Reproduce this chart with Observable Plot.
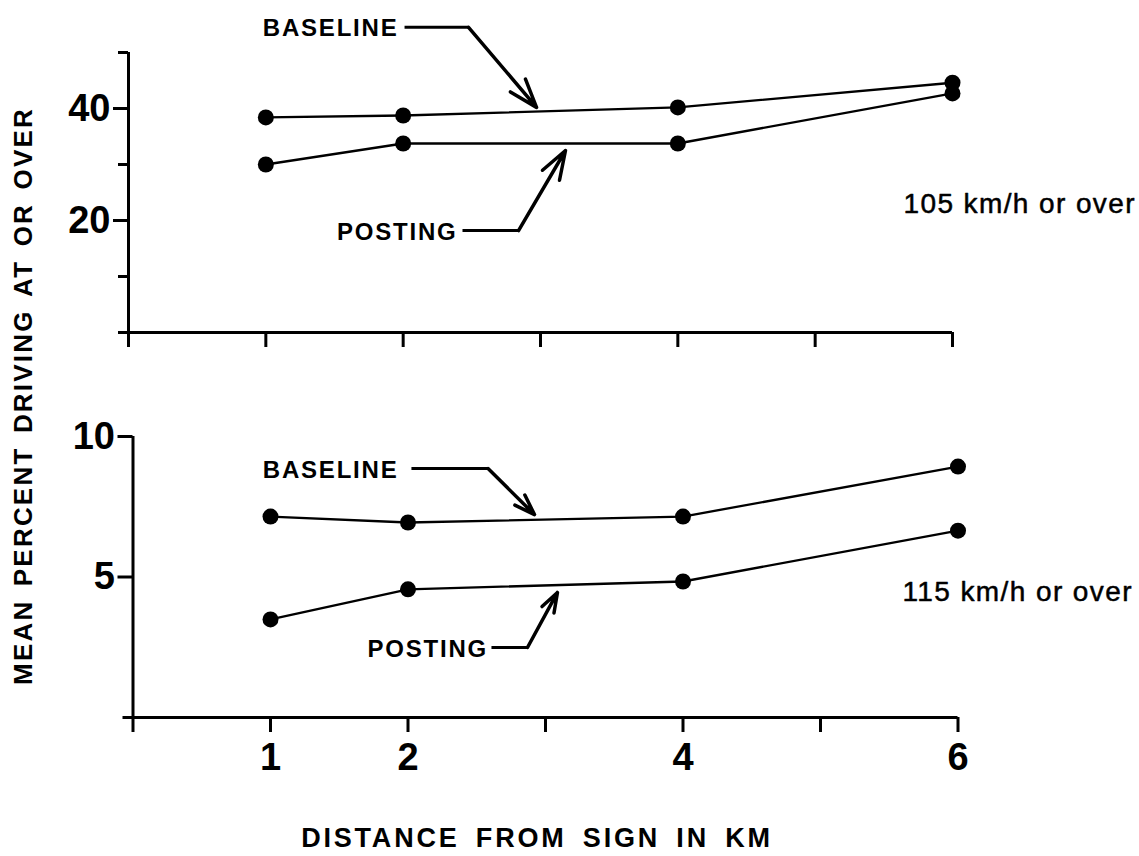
<!DOCTYPE html>
<html><head><meta charset="utf-8">
<script src="https://cdn.jsdelivr.net/npm/d3@7"></script>
<script src="https://cdn.jsdelivr.net/npm/@observablehq/plot@0.6"></script>
<style>
html,body{margin:0;padding:0;background:#fff;}
#wrap{position:relative;width:1139px;height:856px;overflow:hidden;font-family:"Liberation Sans",Arial,sans-serif;color:#000;}
#top,#bottom{position:absolute;left:0;}
#top{top:0;}
#bottom{top:380px;}
#ytitle{position:absolute;left:23px;top:396px;transform:translate(-50%,-50%) rotate(-90deg);white-space:nowrap;font-weight:bold;font-size:26px;letter-spacing:2.2px;word-spacing:4px;}
#xtitle{position:absolute;left:537px;top:838px;transform:translate(-50%,-50%);white-space:nowrap;font-weight:bold;font-size:27px;letter-spacing:2.8px;word-spacing:6px;}
</style></head>
<body>
<div id="wrap">
  <div id="top"></div>
  <div id="bottom"></div>
  <div id="ytitle">MEAN PERCENT DRIVING AT OR OVER</div>
  <div id="xtitle">DISTANCE FROM SIGN IN KM</div>
</div>
<script>
// ---- data ----
const distances = [1, 2, 4, 6];
const baseline105 = [38.4, 38.75, 40.2, 44.6];
const posting105 = [30.0, 33.75, 33.75, 42.7];
const baseline115 = [7.15, 6.94, 7.15, 8.93];
const posting115 = [3.49, 4.56, 4.84, 6.65];

// ---- tick values / labels ----
const xTicks = [0, 1, 2, 3, 4, 5, 6];
const xTickLabels = [1, 2, 4, 6];
const yTicksTop = [0, 10, 30, 50];
const yLabelsTop = [20, 40];
const yTicksBottom = [0];
const yLabelsBottom = [5, 10];

// ---- annotations (data units) ----
const topSeriesLabels = [
  {text: "BASELINE", x: 1.966, y: 54.3},
  {text: "POSTING", x: 2.396, y: 17.9}
];
const topLeaders = [
  {x1: 2.01, y1: 54.5, x2: 2.476, y2: 54.5, x3: 2.971, y3: 40.2},
  {x1: 2.432, y1: 18.2, x2: 2.84, y2: 18.2, x3: 3.182, y3: 32.5}
];
const topPanelLabel = [{text: "105 km/h or over", x: 5.643, y: 23.0}];

const bottomSeriesLabels = [
  {text: "BASELINE", x: 1.931, y: 8.79},
  {text: "POSTING", x: 2.582, y: 2.42}
];
const bottomLeaders = [
  {x1: 2.025, y1: 8.86, x2: 2.582, y2: 8.86, x3: 2.92, y3: 7.22},
  {x1: 2.607, y1: 2.49, x2: 2.869, y2: 2.49, x3: 3.087, y3: 4.45}
];
const bottomPanelLabel = [{text: "115 km/h or over", x: 5.596, y: 4.45}];

const FONT = '"Liberation Sans", Arial, sans-serif';

function rows(arr, series) {
  return distances.map((d, i) => ({km: d, pct: arr[i], series}));
}

function panel({base, post, yDomain, yTicks, yLabels, labels, leaders, panelLabel, showX, layout}) {
  const data = rows(base, "BASELINE").concat(rows(post, "POSTING"));
  const marks = [
    Plot.ruleY([0], {stroke: "black", strokeWidth: 3}),
    Plot.ruleX([0], {stroke: "black", strokeWidth: 3}),
    Plot.axisX({ticks: xTicks, tickSize: 15, tickFormat: () => "", strokeWidth: 3, label: null}),
    Plot.axisY({ticks: yTicks, tickSize: 10, tickFormat: () => "", strokeWidth: 3, label: null}),
    Plot.axisY({ticks: yLabels, tickSize: 15, tickPadding: 3, tickFormat: d => String(d), strokeWidth: 3, fontSize: 38, fontWeight: "bold", fontFamily: FONT, fill: "black", label: null}),
    Plot.line(data, {x: "km", y: "pct", z: "series", stroke: "black", strokeWidth: 2.3}),
    Plot.dot(data, {x: "km", y: "pct", r: 8, fill: "black", stroke: "none"}),
    Plot.text(labels, {x: "x", y: "y", text: "text", textAnchor: "end", fontSize: 24, fontWeight: "bold", fontFamily: FONT, fill: "black"}),
    Plot.link(leaders, {x1: "x1", y1: "y1", x2: "x2", y2: "y2", stroke: "black", strokeWidth: 3}),
    Plot.arrow(leaders, {x1: "x2", y1: "y2", x2: "x3", y2: "y3", stroke: "black", strokeWidth: 3.5, headLength: 13, headAngle: 38}),
    Plot.text(panelLabel, {x: "x", y: "y", text: "text", textAnchor: "start", fontSize: 28, fontFamily: FONT, fill: "black", stroke: "black", strokeWidth: 0.5})
  ];
  if (showX) {
    marks.push(Plot.axisX({ticks: xTickLabels, tickSize: 0, tickPadding: 26, tickFormat: d => String(d), fontSize: 38, fontWeight: "bold", fontFamily: FONT, fill: "black", label: null}));
  }
  const svg = Plot.plot({
    width: 1139,
    height: layout.height,
    marginLeft: layout.ml,
    marginRight: layout.mr,
    marginTop: layout.mt,
    marginBottom: layout.mb,
    x: {domain: [0, 6], label: null},
    y: {domain: yDomain, label: null},
    style: {fontFamily: FONT, background: "transparent", overflow: "visible", color: "black"},
    marks
  });
  const s = d3.select(svg);
  const seriesNames = labels.map(d => d.text);
  const panelNames = panelLabel.map(d => d.text);
  s.selectAll("text").each(function () {
    const t = this.textContent;
    if (seriesNames.includes(t)) this.setAttribute("letter-spacing", "1.8px");
    if (panelNames.includes(t)) this.setAttribute("letter-spacing", "1.4px");
  });
  s.selectAll('g[aria-label*="tick"]').each(function () {
    this.setAttribute("stroke-width", "3");
    d3.select(this).selectAll("line, path").attr("stroke-width", 3);
  });
  return svg;
}

document.getElementById("top").appendChild(panel({
  base: baseline105, post: posting105, yDomain: [0, 50],
  yTicks: yTicksTop, yLabels: yLabelsTop,
  labels: topSeriesLabels, leaders: topLeaders, panelLabel: topPanelLabel,
  showX: false,
  layout: {height: 380, ml: 128, mr: 187, mt: 52, mb: 48}
}));

document.getElementById("bottom").appendChild(panel({
  base: baseline115, post: posting115, yDomain: [0, 10],
  yTicks: yTicksBottom, yLabels: yLabelsBottom,
  labels: bottomSeriesLabels, leaders: bottomLeaders, panelLabel: bottomPanelLabel,
  showX: true,
  layout: {height: 420, ml: 132.5, mr: 181.5, mt: 56, mb: 83}
}));
</script>
</body></html>
